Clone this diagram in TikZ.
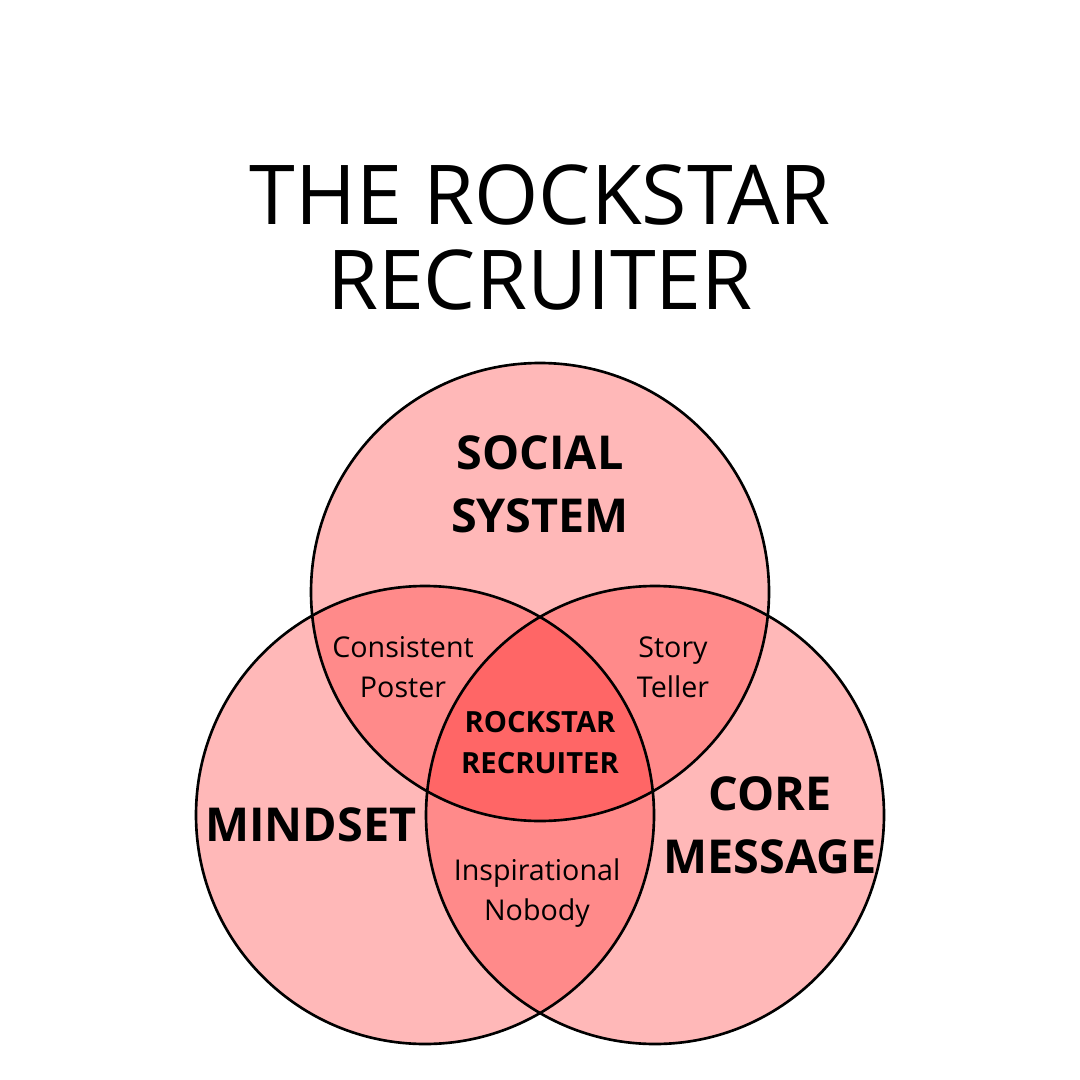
\documentclass[tikz,border=0pt]{standalone}
\usepackage{fontspec}
\setmainfont{Open Sans}
\begin{document}
\begin{tikzpicture}[x=1cm,y=1cm,
  ring/.style={draw=black, line width=0.75pt},
  titletext/.style={font=\fontsize{23.5}{24.2}\selectfont, align=center, inner sep=0pt},
  bigtext/.style={font=\fontsize{13.3}{17.9}\selectfont\bfseries, align=center, inner sep=0pt},
  smalltext/.style={font=\fontsize{8.15}{11.3}\selectfont, align=center, inner sep=0pt},
  midtext/.style={font=\fontsize{8.3}{11.6}\selectfont\bfseries, align=center, inner sep=0pt}]
\definecolor{light}{RGB}{255,184,184}
\definecolor{mid}{RGB}{255,138,138}
\definecolor{dark}{RGB}{255,102,102}
\useasboundingbox[fill=white] (0,0) rectangle (10.8,-10.8);
\coordinate (cT) at (5.40,-5.92);
\coordinate (cL) at (4.25,-8.15);
\coordinate (cR) at (6.55,-8.15);
\def\rr{2.29}
% single fills
\fill[light] (cT) circle (\rr);
\fill[light] (cL) circle (\rr);
\fill[light] (cR) circle (\rr);
% pairwise
\begin{scope}\clip (cT) circle (\rr); \fill[mid] (cL) circle (\rr); \fill[mid] (cR) circle (\rr);\end{scope}
\begin{scope}\clip (cL) circle (\rr); \fill[mid] (cR) circle (\rr);\end{scope}
\begin{scope}\clip (cT) circle (\rr); \clip (cL) circle (\rr); \fill[dark] (cR) circle (\rr);\end{scope}
% outlines
\draw[ring] (cT) circle (\rr);
\draw[ring] (cL) circle (\rr);
\draw[ring] (cR) circle (\rr);
% texts (anchor=base is the baseline of the last line)
\node[titletext, anchor=base] (title) at (5.40,-3.10) {THE ROCKSTAR\\RECRUITER};
\node[bigtext, anchor=base] (social) at (5.40,-5.32) {SOCIAL\\SYSTEM};
\node[bigtext, anchor=base] (mindset) at (3.11,-8.41) {MINDSET};
\node[bigtext, anchor=base] (core) at (7.70,-8.73) {CORE\\MESSAGE};
\node[smalltext, anchor=base] (consistent) at (4.03,-6.97) {Consistent\\Poster};
\node[smalltext, anchor=base] (story) at (6.73,-6.97) {Story\\Teller};
\node[midtext, anchor=base] (rock) at (5.40,-7.73) {ROCKSTAR\\RECRUITER};
\node[smalltext, anchor=base] (insp) at (5.37,-9.20) {Inspirational\\Nobody};
\end{tikzpicture}
\end{document}
